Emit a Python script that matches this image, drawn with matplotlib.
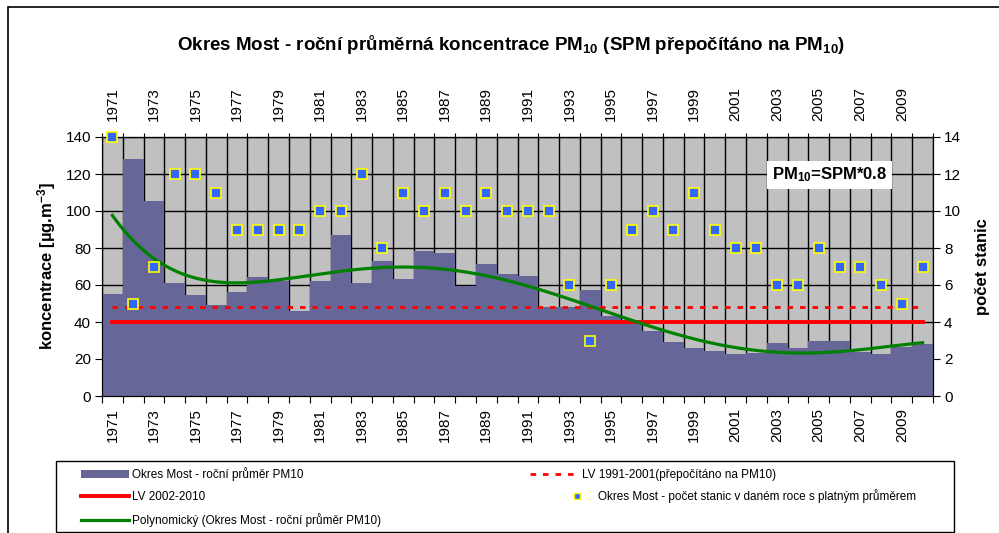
import numpy as np
import matplotlib.pyplot as plt
from matplotlib.lines import Line2D
from matplotlib.patches import Patch, Rectangle

plt.rcParams['font.family'] = ['Liberation Sans', 'DejaVu Sans']
plt.rcParams['mathtext.fontset'] = 'custom'
plt.rcParams['mathtext.rm'] = 'Liberation Sans'
plt.rcParams['mathtext.bf'] = 'Liberation Sans:bold'
plt.rcParams['mathtext.default'] = 'regular'

# data
years = np.arange(1971, 2011)
pm10 = [55, 128, 105.5, 61, 54.5, 49, 56, 64.5, 62, 46,
        62, 87, 61, 73, 63, 78.5, 77.5, 59.5, 71.5, 66,
        65, 48, 48, 57.5, 43.5, 40.5, 35, 29, 26, 24.5,
        22.5, 23.5, 28.5, 26, 29.5, 29.5, 24, 22.5, 26.5, 28]
stations = [14, 5, 7, 12, 12, 11, 9, 9, 9, 9,
            10, 10, 12, 8, 11, 10, 11, 10, 11, 10,
            10, 10, 6, 3, 6, 9, 10, 9, 11, 9,
            8, 8, 6, 6, 8, 7, 7, 6, 5, 7]
lv_1991 = 48
lv_2002 = 40
trend_order = 5

W, H = 999, 533
def fx(px):
    return px / W
def fy(py):
    return 1 - py / H

fig = plt.figure(figsize=(9.99, 5.33), dpi=100)
ax = fig.add_axes([fx(102), fy(396), fx(933) - fx(102), fy(137) - fy(396)])
ax.set_facecolor('#C0C0C0')

x = np.arange(len(years))
ax.bar(x, pm10, width=1.0, color='#666699', lw=0, zorder=2)
ax.plot(x, np.full(len(x), lv_1991), color='red', lw=2, ls=(0, (2, 2.5)), zorder=3)
ax.plot(x, np.full(len(x), lv_2002), color='red', lw=2.8, zorder=3)

# polynomial trendline, like the Excel one
xs = np.linspace(0, len(x) - 1, 400)
coef = np.polyfit(x, pm10, trend_order)
ax.plot(xs, np.polyval(coef, xs), color='#008000', lw=2.3, zorder=4)

ax.set_xlim(-0.5, len(x) - 0.5)
ax.set_ylim(0, 140)
ax.set_yticks(range(0, 141, 20))
ax.set_xticks(np.arange(-0.5, len(x), 1))
ax.set_xticklabels([])
ax.set_xticks(x[::2], labels=[str(y) for y in years[::2]], minor=True)
ax.tick_params(axis='x', which='major', direction='out', length=5)
ax.tick_params(axis='x', which='minor', length=0, pad=8.6, labelrotation=90, labelsize=11)
ax.tick_params(axis='y', direction='out', length=5, pad=3, labelsize=11)
ax.grid(True, which='major', color='black', lw=1)
ax.set_axisbelow(True)

top = ax.secondary_xaxis('top')
top.set_xticks(np.arange(-0.5, len(x), 1))
top.set_xticklabels([])
top.set_xticks(x[::2], labels=[str(y) for y in years[::2]], minor=True)
top.tick_params(which='major', direction='inout', length=6)
top.tick_params(which='minor', length=0, pad=11.5, labelrotation=90, labelsize=11)

ax2 = ax.twinx()
ax2.plot(x, stations, ls='none', marker='s', ms=7, mfc='#3366FF', mec='#FFFF00', mew=1.2,
         zorder=5, clip_on=False)
ax2.set_ylim(0, 14)
ax2.set_yticks(range(0, 15, 2))
ax2.tick_params(axis='y', direction='out', length=5, pad=3, labelsize=11)

ax.set_ylabel(r'koncentrace [µg.m$^\mathbf{-3}$]', fontsize=12, fontweight='bold')
ax.yaxis.set_label_coords(-0.053, 0.5)
ax2.set_ylabel('počet stanic', fontsize=12, fontweight='bold')
ax2.yaxis.set_label_coords(1.0505, 0.5)

fig.text(fx(511), fy(45),
         r'Okres Most - roční průměrná koncentrace PM$_\mathbf{10}$ (SPM přepočítáno na PM$_\mathbf{10}$)',
         fontsize=13.5, fontweight='bold', ha='center', va='center')
ax.text(fx(829.5), fy(175), r'PM$_\mathbf{10}$=SPM*0.8', transform=fig.transFigure,
        fontsize=12, fontweight='bold', ha='center', va='center', zorder=6,
        bbox=dict(boxstyle='square,pad=0.3', fc='white', ec='none'))

# chart frame and legend box
fig.add_artist(Rectangle((fx(7.5), -0.5), 2, fy(7.5) + 0.5, transform=fig.transFigure,
                         fill=False, ec='black', lw=1.2))
fig.add_artist(Rectangle((fx(56), fy(532)), fx(954) - fx(56), fy(461) - fy(532),
                         transform=fig.transFigure, fill=False, ec='black', lw=1))

fs = 8.5
fig.legend(handles=[Patch(fc='#666699'),
                    Line2D([], [], color='red', lw=2.8),
                    Line2D([], [], color='#008000', lw=2.3)],
           labels=['Okres Most - roční průměr PM10', 'LV 2002-2010',
                   'Polynomický (Okres Most - roční průměr PM10)'],
           loc='upper left', bbox_to_anchor=(fx(81), fy(467)), frameon=False, fontsize=fs,
           handlelength=4.1, handletextpad=0.25, labelspacing=0.85, borderpad=0, borderaxespad=0)
fig.legend(handles=[Line2D([], [], color='red', lw=2, ls=(0, (2, 2.5)))],
           labels=['LV 1991-2001(přepočítáno na PM10)'],
           loc='upper left', bbox_to_anchor=(fx(530), fy(469)), frameon=False, fontsize=fs,
           handlelength=4.2, handletextpad=0.2, borderpad=0, borderaxespad=0)
fig.legend(handles=[Line2D([], [], ls='none', marker='s', ms=4.5, mfc='#3366FF', mec='#FFFF00', mew=1)],
           labels=['Okres Most - počet stanic v daném roce s platným průměrem'],
           loc='upper left', bbox_to_anchor=(fx(571), fy(489.5)), frameon=False, fontsize=fs,
           handlelength=1.0, handletextpad=1.3, borderpad=0, borderaxespad=0)

fig.savefig('out.png', dpi=100)
